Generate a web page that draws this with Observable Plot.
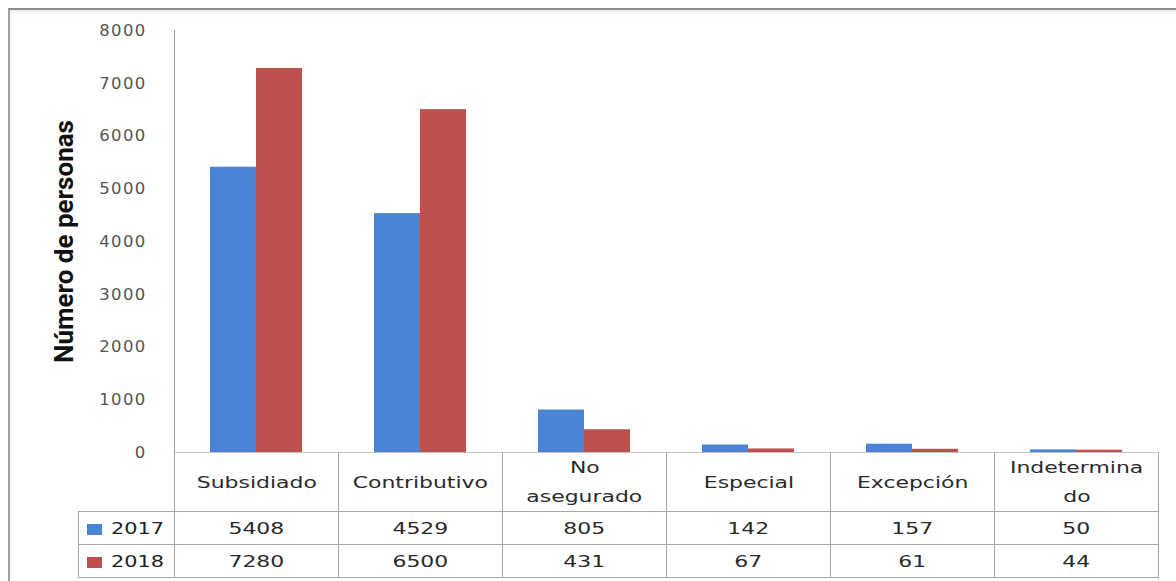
<!DOCTYPE html>
<html>
<head>
<meta charset="utf-8">
<script src="https://cdn.jsdelivr.net/npm/d3@7"></script>
<script src="https://cdn.jsdelivr.net/npm/@observablehq/plot@0.6"></script>
<style>
  html, body { margin: 0; padding: 0; background: #fff; overflow: hidden; }
  #wrap { position: relative; width: 1176px; height: 581px; }
  #chart { position: absolute; left: 0; top: 0; }
  #chart svg { color: #9a9a9a; }
  #chart g[aria-label="y-axis tick label"] text {
    font-family: "DejaVu Sans", Verdana, sans-serif; font-size: 16.5px; letter-spacing: 1.3px; fill: #555;
  }
  #chart g[aria-label="y-axis label"] text {
    font-family: Roboto, "Liberation Sans", sans-serif;
    font-weight: 700; font-size: 26px; fill: #111;
  }
  #frame {
    position: absolute; left: 8px; top: 8px; width: 1200px; height: 600px;
    border-left: 2px solid #a0a0a0; border-top: 2px solid #8c8c8c;
    box-shadow: inset 0 5px 6px -4px rgba(0,0,0,0.12);
    pointer-events: none;
  }
  #datatable {
    position: absolute; left: 78px; top: 452px;
    border-collapse: collapse; table-layout: fixed;
    font-family: "DejaVu Sans", Verdana, sans-serif; font-size: 16px; color: #2a2a2a;
  }
  #datatable td { border: 1px solid #a8a8a8; text-align: center; padding: 0; white-space: nowrap; }
  #datatable tr.head td { height: 55px; border-top-color: #c4c4c4; line-height: 29px; }
  #datatable tr.head td.corner { border-top: none; border-left: none; }
  #datatable tr.row td { height: 32px; }
  #datatable td.key { text-align: left; padding-left: 8px; color: #222; }
  .w { display: inline-block; transform: scaleX(1.37); }
  .k { display: inline-block; transform: scaleX(1.3); transform-origin: left center; }
  .sw { display: inline-block; width: 15px; height: 11px; margin-right: 9px; vertical-align: -1px; }
</style>
</head>
<body>
<div id="wrap">
  <div id="chart"></div>
  <table id="datatable"></table>
  <div id="frame"></div>
</div>
<script>
// Afiliación por régimen de salud, 2017 vs 2018
const categories = ["Subsidiado", "Contributivo", "No asegurado", "Especial", "Excepción", "Indeterminado"];
const headerLabels = [["Subsidiado"], ["Contributivo"], ["No", "asegurado"], ["Especial"], ["Excepción"], ["Indetermina", "do"]];
const years = ["2017", "2018"];
const values2017 = [5408, 4529, 805, 142, 157, 50];
const values2018 = [7280, 6500, 431, 67, 61, 44];
const yTicks = [0, 1000, 2000, 3000, 4000, 5000, 6000, 7000, 8000];
const yLabel = "Número de personas";
const colors = ["#4a85d5", "#c0504d"];

const seriesByYear = [values2017, values2018];
const rows = categories.flatMap((c, i) =>
  years.map((yr, j) => ({category: c, year: yr, value: seriesByYear[j][i]}))
);

const chart = Plot.plot({
  width: 1176,
  height: 470,
  marginLeft: 174,
  marginRight: 18,
  marginTop: 30,
  marginBottom: 18,
  style: {background: "transparent", overflow: "visible"},
  fx: {domain: categories, padding: 0, axis: null, label: null},
  x: {domain: years, paddingInner: 0, paddingOuter: 0.76, axis: null},
  y: {
    domain: [0, 8000],
    ticks: yTicks,
    tickSize: 0,
    tickPadding: 28,
    tickFormat: d => String(d),
    line: true,
    label: yLabel,
    labelAnchor: "center",
    labelArrow: false,
    labelOffset: 120
  },
  color: {domain: years, range: colors},
  marks: [
    Plot.barY(rows, {fx: "category", x: "year", y: "value", fill: "year"})
  ]
});
document.getElementById("chart").append(chart);

// Data table under the bars: category header plus one row per year
const table = d3.select("#datatable");
const cols = table.append("colgroup");
cols.append("col").style("width", "96px");
categories.forEach(() => cols.append("col").style("width", "164px"));

const head = table.append("tr").attr("class", "head");
head.append("td").attr("class", "corner");
headerLabels.forEach(lines => {
  const td = head.append("td");
  lines.forEach((ln, k) => {
    if (k > 0) td.append("br");
    td.append("span").attr("class", "w").text(ln);
  });
});

years.forEach((yr, j) => {
  const tr = table.append("tr").attr("class", "row");
  const key = tr.append("td").attr("class", "key");
  key.append("span").attr("class", "sw").style("background", colors[j]);
  key.append("span").attr("class", "k").text(yr);
  seriesByYear[j].forEach(v => tr.append("td").append("span").attr("class", "w").text(String(v)));
});
</script>
</body>
</html>
